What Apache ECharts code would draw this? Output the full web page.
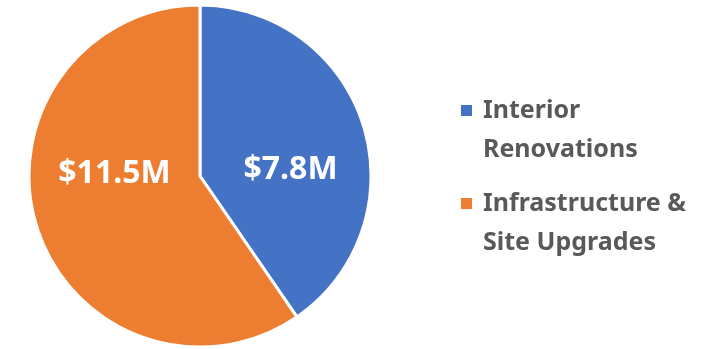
<!DOCTYPE html>
<html>
<head>
<meta charset="utf-8">
<script src="https://cdn.jsdelivr.net/npm/echarts@6/dist/echarts.min.js"></script>
<style>
  html, body { margin: 0; padding: 0; background: #fff; }
  #chart { width: 725px; height: 349px; }
</style>
</head>
<body>
<div id="chart"></div>
<script>
// Budget split by project category (millions of dollars)
const categories = ['Interior Renovations', 'Infrastructure & Site Upgrades'];
const legendLabels = ['Interior\nRenovations', 'Infrastructure &\nSite Upgrades'];
const values = [7.8, 11.5];
const valueLabels = ['$7.8M', '$11.5M'];
const colors = ['#4472C4', '#ED7D31'];
// nudges for the in-slice value labels
const labelOffsets = [[6, 20], [-1, -28]];

const chart = echarts.init(document.getElementById('chart'), null, { renderer: 'canvas' });

const font = '"Noto Sans", "Open Sans", sans-serif';

chart.setOption({
  animation: false,
  legend: {
    orient: 'vertical',
    left: 459,
    top: 52,
    padding: 0,
    itemWidth: 13,
    itemHeight: 13,
    itemGap: -24,
    icon: 'rect',
    data: categories,
    // leading blank line keeps the swatch level with the first text line
    formatter: name => '\n' + legendLabels[categories.indexOf(name)],
    textStyle: {
      fontFamily: font,
      fontWeight: 'bold',
      fontSize: 25,
      color: '#595959',
      lineHeight: 39,
      padding: [0, 0, 0, 5]
    }
  },
  series: [{
    type: 'pie',
    center: [200, 176],
    radius: [0, 171],
    startAngle: 90,
    clockwise: true,
    itemStyle: { borderColor: '#fff', borderWidth: 3 },
    label: {
      position: 'inside',
      color: '#fff',
      fontFamily: font,
      fontWeight: 'bold',
      fontSize: 32
    },
    labelLine: { show: false },
    emphasis: { disabled: true },
    data: categories.map((name, i) => ({
      name,
      value: values[i],
      itemStyle: { color: colors[i] },
      label: { formatter: valueLabels[i], offset: labelOffsets[i] }
    }))
  }]
});
</script>
</body>
</html>
